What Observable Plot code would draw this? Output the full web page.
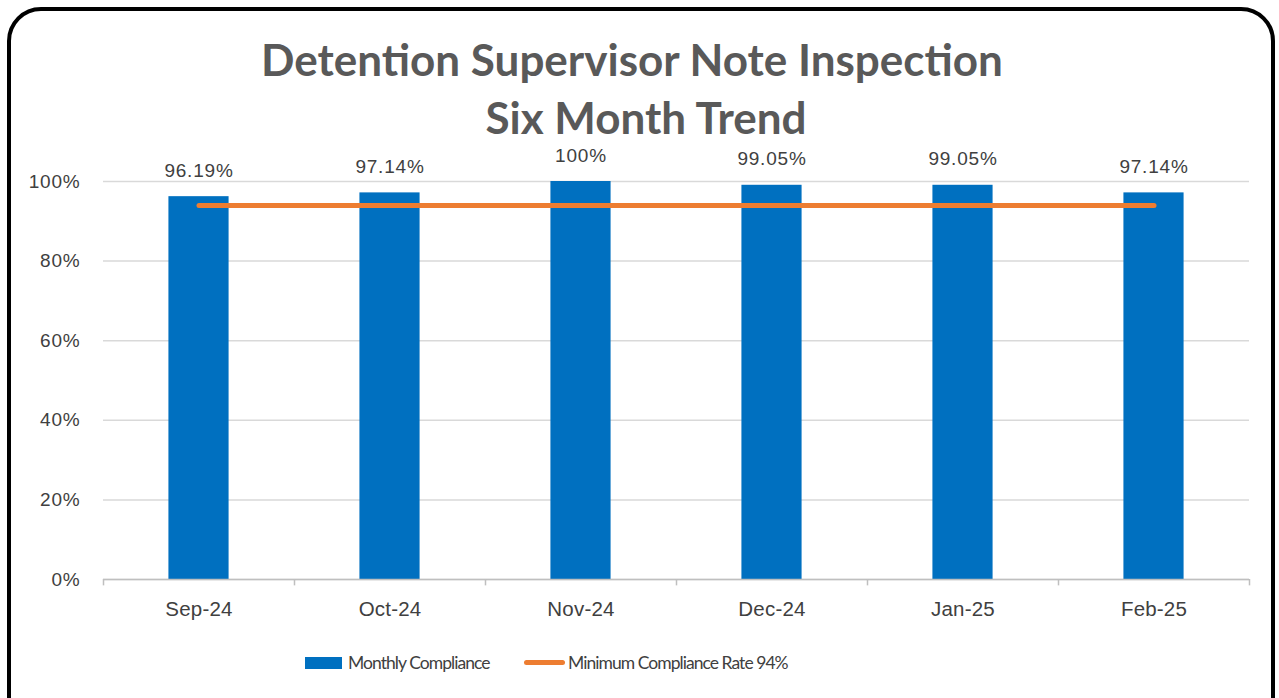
<!DOCTYPE html>
<html>
<head>
<meta charset="utf-8">
<script src="https://cdn.jsdelivr.net/npm/d3@7"></script>
<script src="https://cdn.jsdelivr.net/npm/@observablehq/plot@0.6"></script>
<style>
  html, body { margin: 0; padding: 0; background: #fff; overflow: hidden; width: 1279px; height: 698px; }
  #frame { position: absolute; left: 7px; top: 7px; width: 1260px; height: 720px; border: 4px solid #000; border-radius: 34px; }
  .title { position: absolute; width: 900px; text-align: center; font-family: Lato, sans-serif; font-weight: 700; color: #595959; font-size: 44px; line-height: 50px; white-space: nowrap; letter-spacing: 0px; }
  #chart { position: absolute; left: 0; top: 140px; }
  .leg { position: absolute; font-family: Lato, sans-serif; font-size: 17.5px; color: #404040; white-space: nowrap; line-height: 24px; letter-spacing: -0.95px; }
  #chart svg text { letter-spacing: 0.8px; }
  #chart svg g[aria-label="x-axis tick label"] text { letter-spacing: 0.2px; }
</style>
</head>
<body>
<div id="frame"></div>
<div class="title" id="t1" style="left:182px; top:34px;"></div>
<div class="title" id="t2" style="left:196px; top:92px;"></div>
<div id="chart"></div>
<div class="leg" style="left:305px; top:657px; width:37px; height:12px; background:#0070C0;"></div>
<div class="leg" id="l1" style="left:348px; top:651px;"></div>
<div class="leg" style="left:524px; top:660px; width:41px; height:5px; border-radius:3px; background:#ED7D31;"></div>
<div class="leg" id="l2" style="left:568px; top:651px;"></div>
<script>
const titleLines = ["Detention Supervisor Note Inspection", "Six Month Trend"];
const months = ["Sep-24", "Oct-24", "Nov-24", "Dec-24", "Jan-25", "Feb-25"];
const compliance = [0.9619, 0.9714, 1.0, 0.9905, 0.9905, 0.9714];
const valueLabels = ["96.19%", "97.14%", "100%", "99.05%", "99.05%", "97.14%"];
const minRate = 0.94;
const yTicks = [0, 0.2, 0.4, 0.6, 0.8, 1.0];
const seriesNames = ["Monthly Compliance", "Minimum Compliance Rate 94%"];

document.getElementById("t1").textContent = titleLines[0];
document.getElementById("t2").textContent = titleLines[1];
document.getElementById("l1").textContent = seriesNames[0];
document.getElementById("l2").textContent = seriesNames[1];

const bars = months.map((m, i) => ({month: m, value: compliance[i], label: valueLabels[i]}));
const minLine = months.map(m => ({month: m, value: minRate}));

const W = 1279, mL = 103, mR = 30;
const step = (W - mL - mR) / months.length;

const chart = Plot.plot({
  width: W,
  height: 480,
  marginTop: 41,
  marginBottom: 41,
  marginLeft: mL,
  marginRight: mR,
  style: {fontFamily: "'Liberation Sans', Arial, sans-serif", fontSize: "19px", color: "#404040", background: "transparent"},
  x: {domain: months, paddingInner: 0.685, paddingOuter: 0.3425, round: false, label: null},
  y: {domain: [0, 1], label: null},
  marks: [
    Plot.gridY(yTicks, {stroke: "#d9d9d9", strokeOpacity: 1, strokeWidth: 1.5}),
    Plot.barY(bars, {x: "month", y: "value", fill: "#0070C0"}),
    Plot.ruleY([0], {stroke: "#bfbfbf", strokeWidth: 1.5}),
    Plot.ruleX(months, {x: d => d, y1: 0, y2: -0.016, dx: -step / 2, stroke: "#bfbfbf", strokeWidth: 1.5}),
    Plot.ruleX(months.slice(-1), {x: d => d, y1: 0, y2: -0.016, dx: step / 2, stroke: "#bfbfbf", strokeWidth: 1.5}),
    Plot.line(minLine, {x: "month", y: "value", stroke: "#ED7D31", strokeWidth: 5, strokeLinecap: "round"}),
    Plot.text(bars, {x: "month", y: "value", text: "label", dy: -26, fill: "#404040", fontSize: 19}),
    Plot.axisY(yTicks, {tickFormat: d => Math.round(d * 100) + "%", tickSize: 0, tickPadding: 23, fill: "#404040", fontSize: 19}),
    Plot.axisX({tickSize: 0, tickPadding: 22, fill: "#404040", fontSize: 20.5})
  ]
});
document.getElementById("chart").appendChild(chart);
</script>
</body>
</html>
